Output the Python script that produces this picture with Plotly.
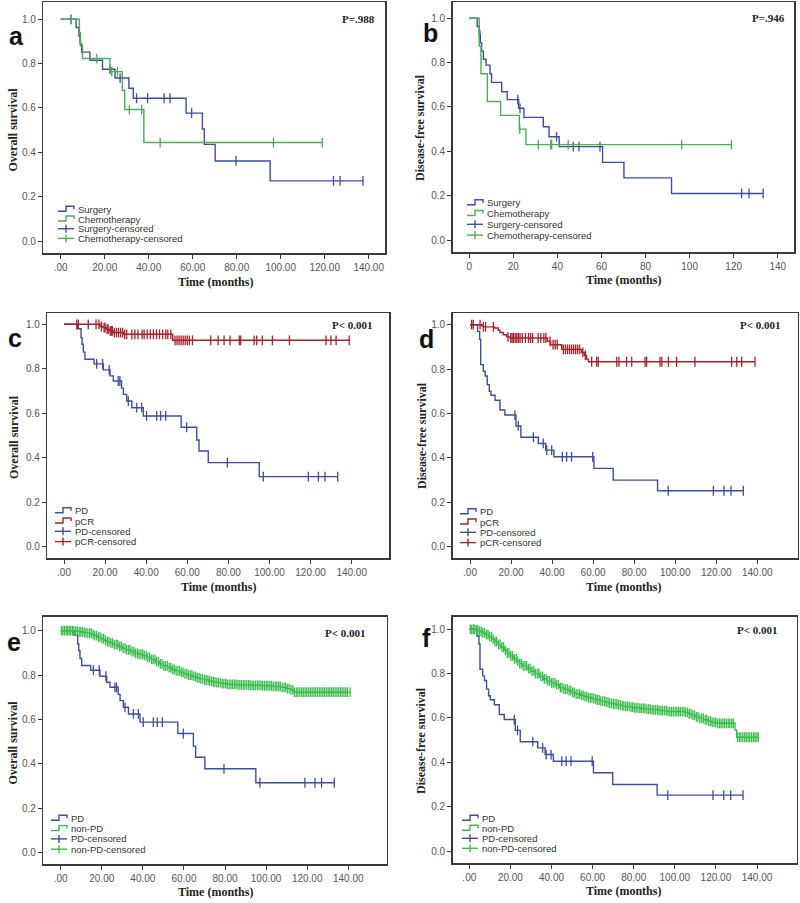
import bisect
import plotly.graph_objects as go

# ---------------- DATA ----------------
x_tick_vals = [0, 20, 40, 60, 80, 100, 120, 140]
x_tick_dec = [".00", "20.00", "40.00", "60.00", "80.00", "100.00", "120.00", "140.00"]
x_tick_int = ["0", "20", "40", "60", "80", "100", "120", "140"]
y_tick_vals = [0.0, 0.2, 0.4, 0.6, 0.8, 1.0]
y_tick_text = ["0.0", "0.2", "0.4", "0.6", "0.8", "1.0"]

legend_ab = ["Surgery", "Chemotherapy", "Surgery-censored", "Chemotherapy-censored"]
legend_cd = ["PD", "pCR", "PD-censored", "pCR-censored"]
legend_ef = ["PD", "non-PD", "PD-censored", "non-PD-censored"]
p_values = ["P=.988", "P=.946", "P< 0.001", "P< 0.001", "P< 0.001", "P< 0.001"]
panel_letters = ["a", "b", "c", "d", "e", "f"]
y_titles = ["Overall survival", "Disease-free survival", "Overall survival",
            "Disease-free survival", "Overall survival", "Disease-free survival"]
x_title = "Time (months)"

# Panel a: OS surgery vs chemotherapy
a_surg_t = [0, 7.0, 8.3, 8.8, 9.5, 13.3, 19.0, 24.7, 31.0, 33.0, 57.0, 64.4, 65.3, 70.2, 95.2]
a_surg_s = [1.0, 0.963, 0.926, 0.889, 0.852, 0.815, 0.775, 0.735, 0.689, 0.644, 0.577, 0.505, 0.436, 0.361, 0.271]
a_surg_cens = [4.7, 22.4, 27.0, 34.5, 39.5, 47.0, 49.7, 59.5, 79.7, 124.0, 127.0, 137.4]
a_chemo_t = [0, 8.5, 9.0, 9.9, 22.4, 28.0, 29.1, 37.8]
a_chemo_s = [1.0, 0.94, 0.88, 0.823, 0.764, 0.68, 0.593, 0.444]
a_chemo_cens = [16.4, 23.2, 25.8, 31.2, 36.8, 45.2, 96.7, 118.9]

# Panel b: DFS surgery vs chemotherapy
b_surg_t = [0, 3.6, 4.5, 5.0, 5.6, 6.4, 7.6, 9.4, 10.1, 14.7, 17.2, 22.4, 24.8, 33.6, 36.2, 40.8, 60.5, 70.2, 91.8]
b_surg_s = [1.0, 0.963, 0.926, 0.889, 0.852, 0.815, 0.789, 0.75, 0.711, 0.669, 0.633, 0.594, 0.553, 0.511, 0.466, 0.421, 0.35, 0.28, 0.21]
b_surg_cens = [4.8, 22.0, 23.0, 39.6, 47.2, 49.8, 59.3, 123.6, 127.0, 133.4]
b_chemo_t = [0, 4.5, 5.3, 8.2, 14.2, 22.7, 25.7]
b_chemo_s = [1.0, 0.875, 0.75, 0.625, 0.562, 0.50, 0.43]
b_chemo_cens = [22.9, 31.3, 36.9, 37.4, 44.9, 96.4, 119.0]

# PD group, OS (panels c, e)
pd_os_t = [0, 6.5, 8.3, 8.8, 9.4, 10.2, 14.6, 19.1, 22.4, 24.0, 28.0, 28.9, 30.5, 33.0, 38.6, 57.0, 64.6, 65.7, 70.2, 95.0]
pd_os_s = [1.0, 0.98, 0.94, 0.91, 0.875, 0.843, 0.822, 0.795, 0.768, 0.745, 0.713, 0.685, 0.655, 0.625, 0.588, 0.537, 0.48, 0.43, 0.378, 0.315]
pd_os_cens = [15.9, 18.8, 22.0, 26.4, 27.2, 31.3, 35.4, 37.8, 40.2, 45.1, 47.0, 49.5, 59.7, 79.5, 97.0, 118.9, 123.8, 127.0, 133.2]

# pCR group, OS (panel c)
pcr_os_t = [0, 17.5, 19.0, 20.5, 22.0, 24.0, 28.9, 52.9]
pcr_os_s = [1.0, 0.99, 0.985, 0.978, 0.97, 0.963, 0.955, 0.928]
pcr_os_cens = [6.2, 7.0, 11.8, 15.6, 17.0, 18.2, 19.5, 20.0, 21.0, 21.5, 22.5, 23.0, 23.5, 24.5, 25.5,
               26.5, 27.5, 28.5, 29.5, 30.5, 33.0, 34.5, 36.0, 38.0, 39.0, 40.5, 42.0, 43.5, 45.0, 46.5,
               48.0, 49.5, 50.5, 52.0, 54.0, 55.0, 56.0, 57.0, 58.0, 59.0, 60.0, 61.0, 62.5, 71.4, 75.0,
               77.9, 80.8, 85.3, 86.0, 92.5, 93.8, 96.5, 101.4, 109.7, 127.5, 129.9, 132.4, 138.8]

# PD group, DFS (panels d, f)
pd_dfs_t = [0, 3.7, 4.7, 5.2, 6.5, 7.4, 8.4, 9.4, 10.2, 12.2, 14.6, 17.0, 22.4, 24.8, 33.3, 36.9, 40.9, 60.4, 69.8, 91.4]
pd_dfs_s = [1.0, 0.97, 0.934, 0.82, 0.79, 0.769, 0.73, 0.70, 0.682, 0.66, 0.616, 0.593, 0.544, 0.493, 0.465, 0.435, 0.405, 0.353, 0.30, 0.252]
pd_dfs_cens = [21.9, 23.5, 30.9, 35.7, 37.4, 39.8, 45.0, 47.1, 49.5, 59.8, 96.6, 118.6, 123.8, 127.2, 133.2]

# pCR group, DFS (panel d)
pcr_dfs_t = [0, 5.7, 6.5, 11.9, 13.8, 14.6, 16.2, 17.8, 19.5, 37.8, 39.3, 44.7, 54.4, 55.7, 56.8, 57.7]
pcr_dfs_s = [1.0, 0.995, 0.99, 0.985, 0.975, 0.965, 0.955, 0.945, 0.94, 0.925, 0.91, 0.889, 0.875, 0.862, 0.845, 0.833]
pcr_dfs_cens = [0.8, 1.6, 4.9, 6.5, 7.6, 11.4, 18.5, 19.8, 20.5, 21.2, 22.0, 22.8, 23.6, 24.4, 25.5, 27.0,
                28.5, 29.5, 30.5, 33.2, 34.5, 36.0, 37.0, 39.0, 40.5, 41.5, 42.5, 45.5, 46.5, 47.5, 48.5,
                49.5, 50.5, 51.5, 52.5, 53.5, 55.0, 56.2, 59.3, 61.7, 62.5, 71.5, 72.6, 76.3, 78.8, 85.3,
                86.1, 92.6, 93.5, 96.7, 100.7, 109.6, 127.5, 130.0, 132.4, 138.9]

# non-PD group, OS (panel e)
nonpd_os_t = [0, 6, 9, 11, 13, 15, 16.5, 18, 19.5, 21, 22.5, 24, 26, 28, 30, 32, 34, 36, 38, 40, 42, 44,
              46, 48, 50, 52, 54, 56, 58, 60, 62, 64, 66, 68, 70, 72, 74, 76, 78, 81, 86, 92, 98, 103,
              107, 110, 112, 113.5]
nonpd_os_s = [1.0, 0.998, 0.995, 0.992, 0.989, 0.983, 0.978, 0.971, 0.964, 0.957, 0.951, 0.945, 0.937,
              0.929, 0.921, 0.914, 0.906, 0.898, 0.894, 0.888, 0.88, 0.871, 0.861, 0.851, 0.842, 0.834,
              0.826, 0.819, 0.812, 0.806, 0.8, 0.794, 0.788, 0.783, 0.778, 0.773, 0.769, 0.766, 0.762,
              0.758, 0.756, 0.754, 0.752, 0.749, 0.745, 0.739, 0.733, 0.723]
nonpd_os_cens = [0.4, 1.1, 1.9, 2.7, 3.4, 4.2, 4.9, 5.7, 6.4, 7.3, 8.1, 9.0, 9.8, 10.6, 11.5, 12.3, 13.2,
                 14.1, 14.9, 15.8, 16.6, 17.5, 18.4, 19.2, 20.1, 20.9, 21.8, 22.7, 23.5, 24.4, 25.2, 26.1,
                 27.0, 27.8, 28.7, 29.5, 30.4, 31.3, 32.1, 33.0, 33.8, 34.7, 35.6, 36.4, 37.3, 38.1, 39.0,
                 39.9, 40.7, 41.6, 42.4, 43.3, 44.2, 45.0, 45.9, 46.7, 47.6, 48.5, 49.3, 50.2, 51.0, 51.9,
                 52.8, 53.6, 54.5, 55.3, 56.2, 57.1, 57.9, 58.8, 59.6, 60.5, 61.4, 62.2, 63.1, 63.9, 64.8,
                 65.7, 66.5, 67.4, 68.2, 69.1, 70.0, 70.8, 71.7, 72.5, 73.4, 74.3, 75.1, 76.0, 76.8, 77.7,
                 78.6, 79.4, 80.3, 81.1, 82.0, 82.9, 83.7, 84.6, 85.4, 86.3, 87.2, 88.0, 88.9, 89.7, 90.6,
                 91.5, 92.3, 93.2, 94.0, 94.9, 95.8, 96.6, 97.5, 98.3, 99.2, 100.1, 100.9, 101.8, 102.6,
                 103.5, 104.4, 105.2, 106.1, 106.9, 107.8, 108.7, 109.5, 110.4, 111.2, 112.1, 113.0, 113.8,
                 114.7, 115.5, 116.4, 117.3, 118.1, 119.0, 119.8, 120.7, 121.6, 122.4, 123.3, 124.1, 125.0,
                 125.9, 126.7, 127.6, 128.4, 129.3, 130.2, 131.0, 131.9, 132.7, 133.6, 134.5, 135.3, 136.2,
                 137.0, 137.9, 138.8, 139.6, 140.9]

# non-PD group, DFS (panel f)
nonpd_dfs_t = [0, 3, 5, 6.5, 8, 9.5, 11, 12.5, 14, 15.5, 17, 18.5, 20, 21.5, 23, 24.5, 26, 28, 30, 32, 34,
               36, 38, 40, 42, 44, 46, 48, 50, 52, 54, 56, 58, 60, 62, 64, 66, 68, 70, 72, 74, 76, 78, 80,
               83, 86, 89, 92, 96, 105, 106.5, 108, 110, 112, 114, 116, 118, 120, 129.3, 130.1]
nonpd_dfs_s = [1.0, 0.997, 0.99, 0.984, 0.976, 0.966, 0.955, 0.944, 0.932, 0.919, 0.906, 0.893, 0.88,
               0.867, 0.856, 0.845, 0.835, 0.823, 0.811, 0.8, 0.788, 0.776, 0.767, 0.758, 0.75, 0.737,
               0.73, 0.723, 0.715, 0.708, 0.702, 0.697, 0.691, 0.686, 0.681, 0.676, 0.671, 0.667, 0.663,
               0.659, 0.655, 0.652, 0.649, 0.646, 0.643, 0.64, 0.637, 0.633, 0.629, 0.625, 0.619, 0.613,
               0.605, 0.598, 0.592, 0.586, 0.58, 0.576, 0.546, 0.513]
nonpd_dfs_cens = [0.5, 1.2, 2.0, 2.7, 3.5, 4.2, 5.0, 5.8, 6.6, 7.4, 8.3, 9.1, 9.9, 10.8, 11.6, 12.5, 13.3,
                  14.2, 15.0, 15.9, 16.7, 17.6, 18.5, 19.3, 20.2, 21.0, 21.9, 22.8, 23.6, 24.5, 25.3, 26.2,
                  27.1, 27.9, 28.8, 29.6, 30.5, 31.4, 32.2, 33.1, 33.9, 34.8, 35.7, 36.5, 37.4, 38.2, 39.1,
                  40.0, 40.8, 41.7, 42.5, 43.4, 44.3, 45.1, 46.0, 46.8, 47.7, 48.6, 49.4, 50.3, 51.1, 52.0,
                  52.9, 53.7, 54.6, 55.4, 56.3, 57.2, 58.0, 58.9, 59.7, 60.6, 61.5, 62.3, 63.2, 64.0, 64.9,
                  65.8, 66.6, 67.5, 68.3, 69.2, 70.1, 70.9, 71.8, 72.6, 73.5, 74.4, 75.2, 76.1, 76.9, 77.8,
                  78.7, 79.5, 80.4, 81.2, 82.1, 83.0, 83.8, 84.7, 85.5, 86.4, 87.3, 88.1, 89.0, 89.8, 90.7,
                  91.6, 92.4, 93.3, 94.1, 95.0, 95.9, 96.7, 97.6, 98.4, 99.3, 100.2, 101.0, 101.9, 102.7,
                  103.6, 104.5, 105.3, 106.2, 107.0, 107.9, 108.8, 109.6, 110.5, 111.3, 112.2, 113.1, 113.9,
                  114.8, 115.6, 116.5, 117.4, 118.2, 119.1, 119.9, 120.8, 121.7, 122.5, 123.4, 124.2, 125.1,
                  126.0, 126.8, 127.7, 128.5, 130.5, 131.4, 132.2, 133.1, 134.0, 134.8, 135.7, 136.5, 137.4,
                  138.3, 139.1, 140.0, 140.6]

# ---------------- STYLE / LAYOUT ----------------
W, H = 800, 903
BLUE = "#3d4e9e"
GREEN_AB = "#4cab5c"
GREEN_EF = "#3dbd4e"
RED = "#a5222d"
FRAME = "#3a3a3a"
TICKC = "#555555"

# frame px (x0, x1, ytop, ybottom), x0 px for t=0, px per month, y px at 1.0 and 0.0
panels = [
    dict(frame=(43.3, 385.0, 2.0, 253.0), x0=60.7, ppm=2.200, y1=19.3, y0=241.0),
    dict(frame=(452.7, 794.3, 2.0, 252.3), x0=469.3, ppm=2.203, y1=18.3, y0=240.0),
    dict(frame=(47.3, 389.0, 313.0, 558.3), x0=64.0, ppm=2.055, y1=324.3, y0=546.7),
    dict(frame=(452.7, 797.5, 313.0, 558.0), x0=470.0, ppm=2.052, y1=324.7, y0=546.7),
    dict(frame=(43.3, 386.7, 616.7, 864.0), x0=60.7, ppm=2.054, y1=630.7, y0=852.7),
    dict(frame=(452.7, 796.7, 616.7, 863.3), x0=469.3, ppm=2.055, y1=629.3, y0=851.0),
]
letter_pos = [(16.7, 36), (430.5, 33), (15, 338), (426, 339), (13.5, 642), (427, 638)]
p_pos = [(377, 19.3), (787, 18.3), (375, 325), (783, 325), (368, 633), (780, 630)]
ytitle_pos = [(12.5, 130), (420, 128), (14, 437), (422, 436), (12.5, 743), (421, 741)]
xtitle_pos = [(215, 282), (623, 280), (218, 587), (623, 587), (215, 892), (623, 891)]
legend_pos = [(58, 209.3, 9.7), (467, 202.7, 10.8), (55, 510.7, 10.3), (460, 511.7, 10.3),
              (51, 818.3, 10.3), (462, 818.3, 10.0)]

series = [
    [(a_surg_t, a_surg_s, a_surg_cens, BLUE), (a_chemo_t, a_chemo_s, a_chemo_cens, GREEN_AB)],
    [(b_surg_t, b_surg_s, b_surg_cens, BLUE), (b_chemo_t, b_chemo_s, b_chemo_cens, GREEN_AB)],
    [(pd_os_t, pd_os_s, pd_os_cens, BLUE), (pcr_os_t, pcr_os_s, pcr_os_cens, RED)],
    [(pd_dfs_t, pd_dfs_s, pd_dfs_cens, BLUE), (pcr_dfs_t, pcr_dfs_s, pcr_dfs_cens, RED)],
    [(pd_os_t, pd_os_s, pd_os_cens, BLUE), (nonpd_os_t, nonpd_os_s, nonpd_os_cens, GREEN_EF)],
    [(pd_dfs_t, pd_dfs_s, pd_dfs_cens, BLUE), (nonpd_dfs_t, nonpd_dfs_s, nonpd_dfs_cens, GREEN_EF)],
]
legends = [legend_ab, legend_ab, legend_cd, legend_cd, legend_ef, legend_ef]
xtick_texts = [x_tick_dec, x_tick_int, x_tick_dec, x_tick_dec, x_tick_dec, x_tick_dec]


def px(xp):
    return xp / W


def py(yp):
    return 1 - yp / H


def surv_at(ts, ss, t):
    i = bisect.bisect_right(ts, t) - 1
    return ss[max(i, 0)]


fig = go.Figure()
annotations = []
shapes = []
layout_axes = {}

TICKFONT = dict(family="Liberation Sans, Arial, sans-serif", size=10, color=TICKC)
SERIF_B = "Liberation Serif, Times New Roman, serif"

for i, p in enumerate(panels):
    suf = "" if i == 0 else str(i + 1)
    fx0, fx1, fyt, fyb = p["frame"]
    xr = [(fx0 - p["x0"]) / p["ppm"], (fx1 - p["x0"]) / p["ppm"]]
    scale = p["y0"] - p["y1"]
    yr = [(p["y0"] - fyb) / scale, (p["y0"] - fyt) / scale]
    layout_axes["xaxis" + suf] = dict(
        domain=[px(fx0), px(fx1)], range=xr, anchor="y" + suf,
        showline=True, mirror=True, linecolor=FRAME, linewidth=1.5,
        ticks="outside", ticklen=4, tickcolor=FRAME, tickwidth=1,
        tickvals=x_tick_vals, ticktext=xtick_texts[i], tickfont=TICKFONT,
        showgrid=False, zeroline=False, fixedrange=True,
    )
    layout_axes["yaxis" + suf] = dict(
        domain=[py(fyb), py(fyt)], range=yr, anchor="x" + suf,
        showline=True, mirror=True, linecolor=FRAME, linewidth=1.5,
        ticks="outside", ticklen=4, tickcolor=FRAME, tickwidth=1,
        tickvals=y_tick_vals, ticktext=y_tick_text, tickfont=TICKFONT,
        showgrid=False, zeroline=False, fixedrange=True,
    )

    for ts, ss, cens, col in series[i]:
        end_t = max(cens[-1], ts[-1])
        fig.add_trace(go.Scatter(
            x=ts + [end_t], y=ss + [ss[-1]], mode="lines",
            line=dict(color=col, width=1.4, shape="hv"),
            xaxis="x" + suf, yaxis="y" + suf, showlegend=False, hoverinfo="skip",
        ))
        fig.add_trace(go.Scatter(
            x=cens, y=[surv_at(ts, ss, c) for c in cens], mode="markers",
            marker=dict(symbol="line-ns-open", size=7, color=col, line=dict(color=col, width=1.3)),
            xaxis="x" + suf, yaxis="y" + suf, showlegend=False, hoverinfo="skip",
        ))

    # panel letter
    lx, ly = letter_pos[i]
    annotations.append(dict(x=px(lx), y=py(ly), xref="paper", yref="paper", text="<b>%s</b>" % panel_letters[i],
                            showarrow=False, xanchor="center", yanchor="middle",
                            font=dict(family="Liberation Sans, Arial, sans-serif", size=25, color="#111")))
    # p value
    qx, qy = p_pos[i]
    annotations.append(dict(x=px(qx), y=py(qy), xref="paper", yref="paper", text="<b>%s</b>" % p_values[i],
                            showarrow=False, xanchor="right", yanchor="middle",
                            font=dict(family=SERIF_B, size=11, color="#222")))
    # axis titles
    tx, ty = ytitle_pos[i]
    annotations.append(dict(x=px(tx), y=py(ty), xref="paper", yref="paper", text="<b>%s</b>" % y_titles[i],
                            showarrow=False, textangle=-90, xanchor="center", yanchor="middle",
                            font=dict(family=SERIF_B, size=12, color="#222")))
    tx, ty = xtitle_pos[i]
    annotations.append(dict(x=px(tx), y=py(ty), xref="paper", yref="paper", text="<b>%s</b>" % x_title,
                            showarrow=False, xanchor="center", yanchor="middle",
                            font=dict(family=SERIF_B, size=12, color="#222")))

    # custom legend
    gx, gy, gap = legend_pos[i]
    cols = [series[i][0][3], series[i][1][3], series[i][0][3], series[i][1][3]]
    for k, lab in enumerate(legends[i]):
        yy = gy + k * gap
        col = cols[k]
        if k < 2:
            path = "M %f %f L %f %f L %f %f L %f %f L %f %f" % (
                px(gx), py(yy + 2), px(gx + 8), py(yy + 2), px(gx + 8), py(yy - 3),
                px(gx + 16), py(yy - 3), px(gx + 16), py(yy))
            shapes.append(dict(type="path", path=path, xref="paper", yref="paper",
                               line=dict(color=col, width=1.4)))
        else:
            shapes.append(dict(type="line", xref="paper", yref="paper", x0=px(gx), x1=px(gx + 16),
                               y0=py(yy), y1=py(yy), line=dict(color=col, width=1.4)))
            shapes.append(dict(type="line", xref="paper", yref="paper", x0=px(gx + 8), x1=px(gx + 8),
                               y0=py(yy - 4), y1=py(yy + 4), line=dict(color=col, width=1.4)))
        annotations.append(dict(x=px(gx + 18), y=py(yy), xref="paper", yref="paper", text=lab,
                                showarrow=False, xanchor="left", yanchor="middle",
                                font=dict(family="Liberation Sans, Arial, sans-serif", size=9.5, color="#333")))

fig.update_layout(
    width=W, height=H, margin=dict(l=0, r=0, t=0, b=0),
    paper_bgcolor="white", plot_bgcolor="white",
    showlegend=False, annotations=annotations, shapes=shapes,
    hovermode=False,
    **layout_axes,
)

fig.write_html("out.html", config={"displayModeBar": False, "staticPlot": True},
               post_script="document.body.style.margin='0';document.body.style.overflow='hidden';")
